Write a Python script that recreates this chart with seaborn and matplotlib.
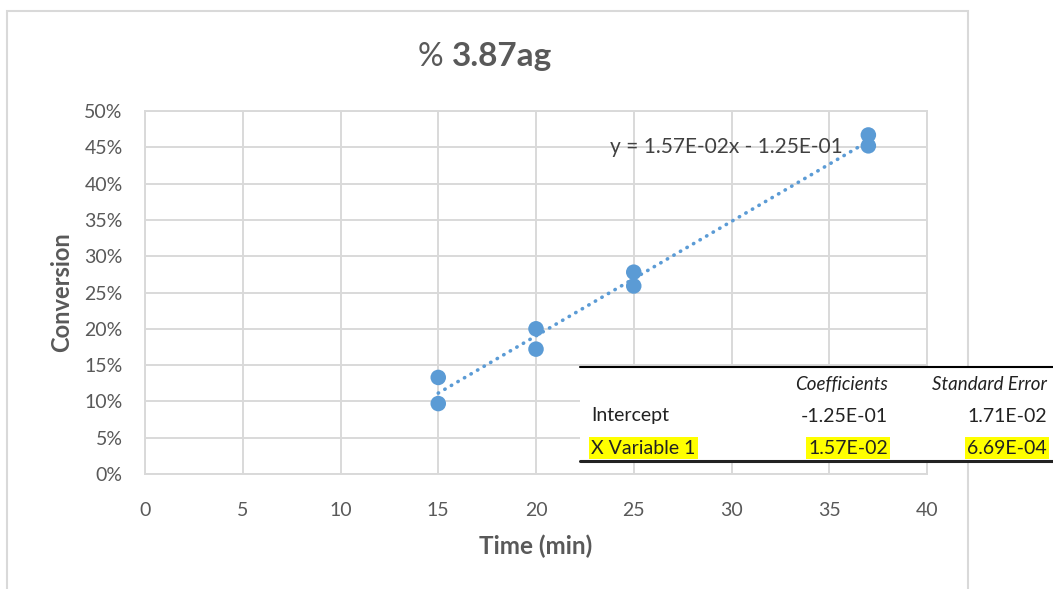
import matplotlib
matplotlib.use("Agg")
import matplotlib.pyplot as plt
import matplotlib.patches as mpatches
from matplotlib.ticker import PercentFormatter, MultipleLocator
import seaborn as sns
import pandas as pd

# ---- data ----
time_min = [15, 15, 20, 20, 25, 25, 37, 37]
conversion = [0.133, 0.097, 0.200, 0.172, 0.278, 0.259, 0.467, 0.452]
title_prefix = "%"
title_main = "3.87ag"
x_label = "Time (min)"
y_label = "Conversion"
equation = "y = 1.57E-02x - 1.25E-01"
table_cols = ["Coefficients", "Standard Error"]
table_rows = ["Intercept", "X Variable 1"]
table_coef = ["-1.25E-01", "1.57E-02"]
table_stderr = ["1.71E-02", "6.69E-04"]

df = pd.DataFrame({"time": time_min, "conv": conversion})

sns.set_style("white")
plt.rcParams["font.family"] = ["Lato", "DejaVu Sans"]

W, H = 1053, 589
fig = plt.figure(figsize=(W / 100, H / 100), dpi=100)

def fx(x):
    return x / W

def fy(y):
    return 1 - y / H

blue = "#5b9bd5"
grid_c = "#d9d9d9"
txt_c = "#595959"

# outer chart frame
fig.patches.append(mpatches.Rectangle((fx(7), -0.1), fx(968) - fx(7), fy(11) + 0.1,
                                      transform=fig.transFigure, fill=False,
                                      edgecolor=grid_c, lw=1.5, zorder=0))

ax = fig.add_axes([fx(145), fy(474), fx(927) - fx(145), fy(111) - fy(474)])
sns.regplot(data=df, x="time", y="conv", ax=ax, ci=None, truncate=True,
            scatter_kws=dict(s=125, color=blue, edgecolor="none", alpha=1, zorder=3),
            line_kws=dict(color=blue, lw=2.6, ls=(0, (0.1, 2.0)),
                          dash_capstyle="round", zorder=2))

ax.set_xlim(0, 40)
ax.set_ylim(0, 0.5)
ax.xaxis.set_major_locator(MultipleLocator(5))
ax.yaxis.set_major_locator(MultipleLocator(0.05))
ax.yaxis.set_major_formatter(PercentFormatter(1.0, decimals=0))
ax.grid(True, color=grid_c, lw=1.4)
ax.set_axisbelow(True)
for s in ax.spines.values():
    s.set_color(grid_c)
    s.set_linewidth(1.4)
ax.tick_params(axis="both", length=0, labelsize=14, labelcolor=txt_c)
ax.tick_params(axis="y", pad=16)
ax.tick_params(axis="x", pad=20)
ax.set_xlabel(x_label, fontsize=17.5, fontweight="bold", color=txt_c, labelpad=11)
ax.set_ylabel(y_label, fontsize=17, fontweight="bold", color=txt_c, labelpad=8)

ax.text((610 - 145) / 782, (474 - 147) / 363, equation, transform=ax.transAxes,
        ha="left", va="center", fontsize=15, color="#404040", zorder=4)

# title
fig.text(fx(443), fy(66), title_prefix, ha="right", va="baseline",
         fontsize=23, color=txt_c)
fig.text(fx(452), fy(66), title_main, ha="left", va="baseline",
         fontsize=24, fontweight="bold", color=txt_c)

# regression summary table overlay
fig.patches.append(mpatches.Rectangle((fx(580), fy(461)), 1 - fx(580), fy(367) - fy(461),
                                      transform=fig.transFigure, facecolor="white",
                                      edgecolor="none", zorder=5))
fig.lines.append(plt.Line2D([fx(580), 1], [fy(367), fy(367)], transform=fig.transFigure,
                            color="black", lw=1.5, zorder=6))
fig.lines.append(plt.Line2D([fx(580), 1], [fy(461), fy(461)], transform=fig.transFigure,
                            color="#222222", lw=2.2, zorder=6))
col_x = [888, 1047]
for cx, c in zip(col_x, table_cols):
    fig.text(fx(cx), fy(385), c, ha="right", va="center", fontsize=13.5,
             style="italic", color="#222222", zorder=7)
row_y = [416, 448]
for i, (ry, r) in enumerate(zip(row_y, table_rows)):
    hl = dict(facecolor="yellow", edgecolor="none", boxstyle="square,pad=0.12") if i == 1 else None
    fig.text(fx(591), fy(ry), r, ha="left", va="center", fontsize=14,
             color="#222222", bbox=hl, zorder=7)
    fig.text(fx(col_x[0]), fy(ry), table_coef[i], ha="right", va="center", fontsize=14,
             color="#222222", bbox=hl, zorder=7)
    fig.text(fx(col_x[1]), fy(ry), table_stderr[i], ha="right", va="center", fontsize=14,
             color="#222222", bbox=hl, zorder=7)

fig.savefig("out.png", dpi=100, facecolor="white")
